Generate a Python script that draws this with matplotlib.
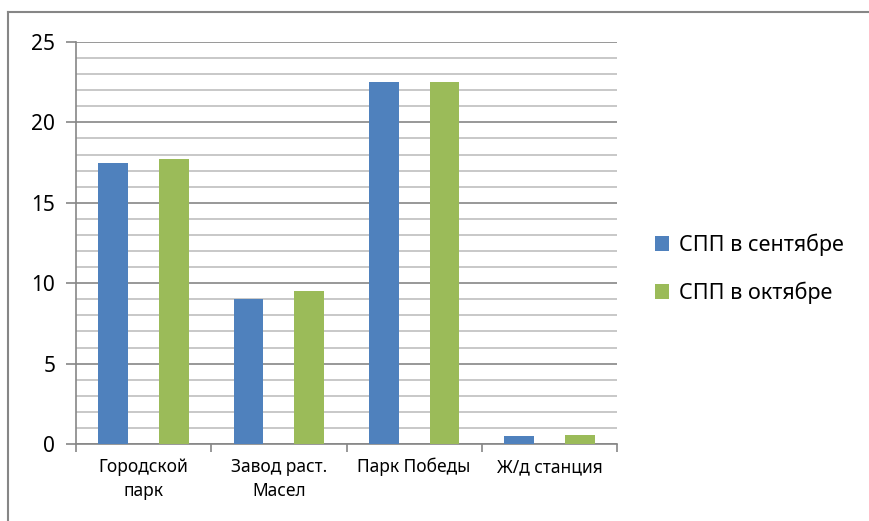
import matplotlib.pyplot as plt
import matplotlib.lines as mlines
from matplotlib.ticker import MultipleLocator
import numpy as np

plt.rcParams['font.family'] = ['Noto Sans', 'DejaVu Sans']

# данные
categories = ['Городской\nпарк', 'Завод раст.\nМасел', 'Парк Победы', 'Ж/д станция']
sept = [17.5, 9.0, 22.5, 0.5]
octo = [17.7, 9.5, 22.5, 0.55]
labels = ['СПП в сентябре', 'СПП в октябре']
colors = ['#4f81bd', '#9bbb59']

fig = plt.figure(figsize=(8.7, 5.21), dpi=100)
ax = fig.add_axes([0.0874, 0.1478, 0.6218, 0.7716])

x = np.arange(len(categories))
w = 0.22
ax.bar(x - 0.225, sept, w, color=colors[0], label=labels[0], zorder=3)
ax.bar(x + 0.225, octo, w, color=colors[1], label=labels[1], zorder=3)

ax.set_xlim(-0.5, len(categories) - 0.5)
ax.set_ylim(0, 25)

# сетка
ax.yaxis.set_major_locator(MultipleLocator(5))
ax.yaxis.set_minor_locator(MultipleLocator(1))
ax.grid(which='major', axis='y', color='#868686', linewidth=1.2, zorder=0)
ax.grid(which='minor', axis='y', color='#bfbfbf', linewidth=1.2, zorder=0)
ax.tick_params(axis='y', which='major', length=7, width=1.2, color='#868686',
               labelsize=15, pad=8)
ax.tick_params(axis='y', which='minor', length=0)

# подписи по оси X
ax.set_xticks(x)
ax.set_xticklabels(categories, fontsize=12.5, linespacing=1.45)
ax.tick_params(axis='x', which='major', length=0, pad=10)
ax.set_xticks(np.arange(len(categories) + 1) - 0.5, minor=True)
ax.tick_params(axis='x', which='minor', length=6, width=1.2, color='#868686')

for s in ['top', 'right']:
    ax.spines[s].set_visible(False)
for s in ['left', 'bottom']:
    ax.spines[s].set_color('#868686')
    ax.spines[s].set_linewidth(1.2)

fig.legend(loc='center left', bbox_to_anchor=(0.731, 0.484), frameon=False,
           fontsize=15.5, handlelength=0.65, handleheight=0.65, handletextpad=0.45,
           labelspacing=1.2)

# рамка
fig.add_artist(mlines.Line2D([8 / 870, 8 / 870], [0, 1 - 12 / 521],
                             color='#868686', linewidth=1.5))
fig.add_artist(mlines.Line2D([8 / 870, 1], [1 - 12 / 521, 1 - 12 / 521],
                             color='#868686', linewidth=1.5))

fig.savefig('out.png', dpi=100)
